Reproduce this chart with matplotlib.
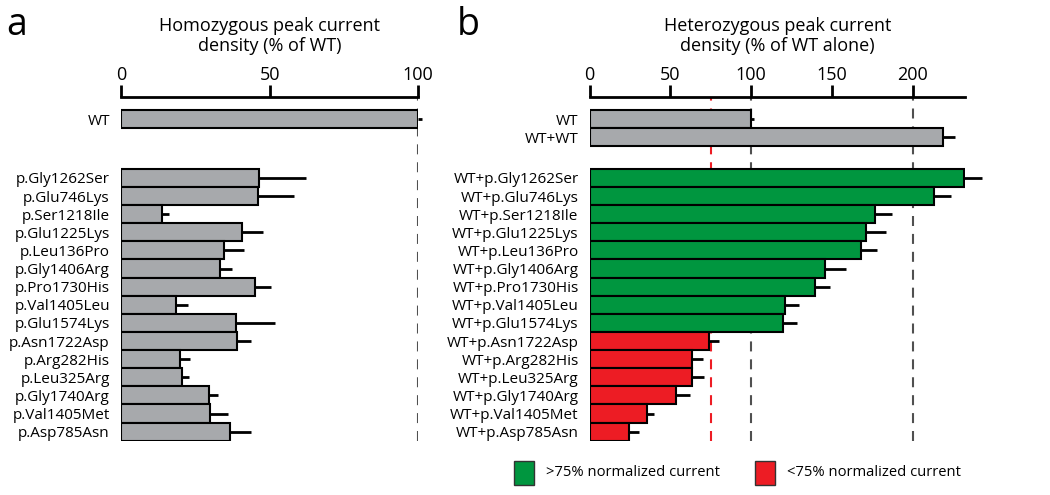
import matplotlib.pyplot as plt
import matplotlib as mpl
from matplotlib.patches import Rectangle

mpl.rcParams['font.family'] = ['Open Sans', 'DejaVu Sans']

# data - panel a (homozygous, % of WT)
variants = ['p.Gly1262Ser', 'p.Glu746Lys', 'p.Ser1218Ile', 'p.Glu1225Lys',
            'p.Leu136Pro', 'p.Gly1406Arg', 'p.Pro1730His', 'p.Val1405Leu',
            'p.Glu1574Lys', 'p.Asn1722Asp', 'p.Arg282His', 'p.Leu325Arg',
            'p.Gly1740Arg', 'p.Val1405Met', 'p.Asp785Asn']
homo_wt = 100
homo_wt_err = 1.2
homo_vals = [46.5, 46.0, 13.7, 40.6, 34.5, 33.4, 45.1, 18.4, 38.6, 39.1,
             19.8, 20.5, 29.7, 29.9, 36.8]
homo_err = [15.6, 12.2, 2.6, 7.3, 6.8, 4.0, 5.4, 4.0, 13.2, 4.5,
            3.5, 2.5, 3.0, 6.2, 6.8]

# data - panel b (heterozygous, % of WT alone)
het_labels = ['WT+p.Gly1262Ser', 'WT+p.Glu746Lys', 'WT+p.Ser1218Ile',
              'WT+p.Glu1225Lys', 'WT+p.Leu136Pro', 'WT+p.Gly1406Arg',
              'WT+p.Pro1730His', 'WT+p.Val1405Leu', 'WT+p.Glu1574Lys',
              'WT+p.Asn1722Asp', 'WT+p.Arg282His', 'WT+p.Leu325Arg',
              'WT+p.Gly1740Arg', 'WT+p.Val1405Met', 'WT+p.Asp785Asn']
het_ctrl_labels = ['WT', 'WT+WT']
het_ctrl_vals = [100, 218.5]
het_ctrl_err = [1.6, 8.0]
het_vals = [231.8, 213.4, 176.7, 170.9, 167.8, 145.7, 139.5, 120.9, 119.9,
            74.2, 63.1, 63.1, 53.4, 35.3, 24.5]
het_err = [11.3, 10.1, 10.3, 12.6, 10.3, 13.0, 9.5, 8.7, 8.3,
           6.1, 7.2, 7.9, 8.7, 4.7, 6.0]
threshold = 75

GRAY = '#a7a9ac'
GREEN = '#00963f'
RED = '#ed1c24'

fig = plt.figure(figsize=(10.5, 4.95), dpi=100)
axa = fig.add_axes([0.1152, 0.1097, 0.2831, 0.6949])
axb = fig.add_axes([0.5616, 0.1097, 0.3574, 0.6949])

off = 3.25  # gap between controls and variants
y_var = [off + i for i in range(len(variants))]


def style_axis(ax, xmax, ticks):
    ax.set_xlim(0, xmax)
    ax.set_ylim(off + len(variants) - 0.5, -1.23)
    for s in ['bottom', 'left', 'right']:
        ax.spines[s].set_visible(False)
    ax.spines['top'].set_linewidth(2)
    ax.xaxis.tick_top()
    ax.set_xticks(ticks)
    ax.tick_params(axis='x', width=2, length=8.5, labelsize=13, pad=1)
    ax.tick_params(axis='y', length=0, labelsize=11, pad=8)


bar_kw = dict(height=1.0, edgecolor='black', linewidth=1.5)
err_kw = dict(fmt='none', ecolor='black', elinewidth=2, capsize=0)
dash = (0, (4.8, 3.8))

# ---- panel a
style_axis(axa, 100, [0, 50, 100])
axa.axvline(100, color='#505050', ls=dash, lw=1.5, zorder=0)
axa.barh([0], [homo_wt], color=GRAY, **bar_kw)
axa.barh(y_var, homo_vals, color=GRAY, **bar_kw)
axa.errorbar([homo_wt], [0], xerr=[[0], [homo_wt_err]], clip_on=False, **err_kw)
axa.errorbar(homo_vals, y_var, xerr=[[0] * len(homo_err), homo_err], **err_kw)
axa.set_yticks([0] + y_var)
axa.set_yticklabels(['WT'] + variants)
axa.set_title('Homozygous peak current\ndensity (% of WT)', fontsize=13,
              pad=33, linespacing=1.1)

# ---- panel b
style_axis(axb, 232.4, [0, 50, 100, 150, 200])
for v in [100, 200]:
    axb.axvline(v, color='#505050', ls=dash, lw=1.5, zorder=0)
axb.axvline(threshold, color=RED, ls=dash, lw=1.5, zorder=0)
y_ctrl = [0, 1]
het_colors = [GREEN if v > threshold else RED for v in het_vals]
axb.barh(y_ctrl, het_ctrl_vals, color=GRAY, **bar_kw)
axb.barh(y_var, het_vals, color=het_colors, **bar_kw)
axb.errorbar(het_ctrl_vals, y_ctrl, xerr=[[0, 0], het_ctrl_err], **err_kw)
axb.errorbar(het_vals, y_var, xerr=[[0] * len(het_err), het_err],
             clip_on=False, **err_kw)
axb.set_yticks(y_ctrl + y_var)
axb.set_yticklabels(het_ctrl_labels + het_labels)
axb.set_title('Heterozygous peak current\ndensity (% of WT alone)', fontsize=13,
              pad=33, linespacing=1.1)

# panel letters
fig.text(0.006, 0.93, 'a', fontsize=27)
fig.text(0.435, 0.93, 'b', fontsize=27)

# legend
fig.patches.append(Rectangle((514 / 1050, 1 - 485 / 495), 20 / 1050, 24 / 495,
                             transform=fig.transFigure, facecolor=GREEN,
                             edgecolor='#333333', linewidth=1))
fig.text(546 / 1050, 1 - 473 / 495, '>75% normalized current', fontsize=10.6,
         va='center')
fig.patches.append(Rectangle((755 / 1050, 1 - 485 / 495), 20 / 1050, 24 / 495,
                             transform=fig.transFigure, facecolor=RED,
                             edgecolor='#333333', linewidth=1))
fig.text(787 / 1050, 1 - 473 / 495, '<75% normalized current', fontsize=10.6,
         va='center')

fig.savefig('out.png', dpi=100)
